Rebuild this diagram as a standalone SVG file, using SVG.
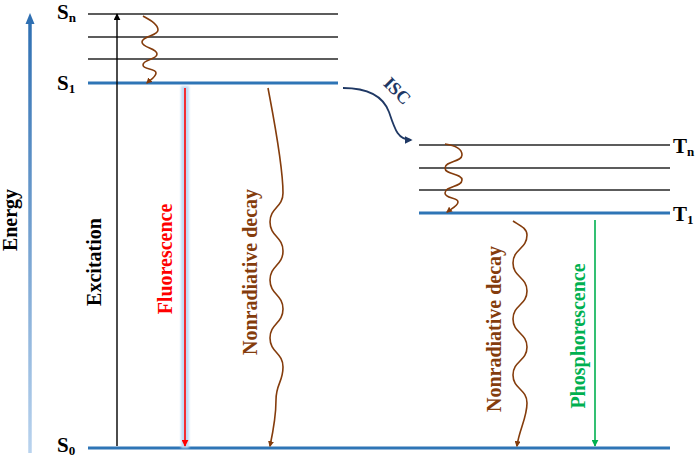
<svg xmlns="http://www.w3.org/2000/svg" width="700" height="459" viewBox="0 0 700 459">
<style>
text{font-family:"Liberation Serif","Times New Roman",serif;font-weight:bold}
.lbl{font-size:20px}
.sub{font-size:13px}
.lvl{stroke:#262626;stroke-width:1.6;fill:none}
.lvb{stroke:#2e75b6;stroke-width:3;fill:none}
.wav{stroke:#843c0c;stroke-width:1.6;fill:none;marker-end:url(#mb)}
</style>
<defs>
<linearGradient id="eg" gradientUnits="userSpaceOnUse" x1="0" y1="452" x2="0" y2="20">
<stop offset="0" stop-color="#b9d3ee"/><stop offset="1" stop-color="#2e6fb2"/>
</linearGradient>
<filter id="glow" filterUnits="userSpaceOnUse" x="170" y="75" width="30" height="385"><feGaussianBlur stdDeviation="1"/></filter>
<marker id="mb" viewBox="0 0 10 10" refX="8" refY="5" markerWidth="6" markerHeight="6" markerUnits="userSpaceOnUse" orient="auto"><path d="M0,0 L10,5 L0,10 z" fill="#843c0c"/></marker>
<marker id="mk" viewBox="0 0 10 10" refX="9" refY="5" markerWidth="7" markerHeight="7" markerUnits="userSpaceOnUse" orient="auto"><path d="M0,0 L10,5 L0,10 z" fill="#000"/></marker>
<marker id="mr" viewBox="0 0 10 10" refX="9" refY="5" markerWidth="7" markerHeight="7" markerUnits="userSpaceOnUse" orient="auto"><path d="M0,0 L10,5 L0,10 z" fill="#ff0000"/></marker>
<marker id="mg" viewBox="0 0 10 10" refX="9" refY="5" markerWidth="7" markerHeight="7" markerUnits="userSpaceOnUse" orient="auto"><path d="M0,0 L10,5 L0,10 z" fill="#00b050"/></marker>
<marker id="mn" viewBox="0 0 10 10" refX="8" refY="5" markerWidth="8" markerHeight="8" markerUnits="userSpaceOnUse" orient="auto"><path d="M0,0 L10,5 L0,10 z" fill="#1f3864"/></marker>
</defs>
<rect width="700" height="459" fill="#fff"/>

<g id="energy-axis">
<line x1="30" y1="453" x2="30" y2="22" stroke="url(#eg)" stroke-width="3.5"/>
<polygon points="30,13 25.5,24 34.5,24" fill="#2e6fb2"/>
<text class="lbl" transform="translate(17,220) rotate(-90)" text-anchor="middle">Energy</text>
</g>

<g id="singlet-levels">
<line class="lvl" x1="88" y1="14" x2="338" y2="14"/>
<line class="lvl" x1="88" y1="37" x2="338" y2="37"/>
<line class="lvl" x1="88" y1="59" x2="338" y2="59"/>
<line class="lvb" x1="88" y1="83" x2="338" y2="83"/>
<text x="57" y="19" font-size="21">S<tspan class="sub" dy="3">n</tspan></text>
<text x="57" y="90" font-size="21">S<tspan class="sub" dy="3">1</tspan></text>
</g>

<g id="ground-level">
<line class="lvb" x1="88" y1="448" x2="670" y2="448"/>
<text x="57" y="452" font-size="21">S<tspan class="sub" dy="3">0</tspan></text>
</g>

<g id="triplet-levels">
<line class="lvl" x1="419" y1="145" x2="670" y2="145"/>
<line class="lvl" x1="419" y1="168" x2="670" y2="168"/>
<line class="lvl" x1="419" y1="190" x2="670" y2="190"/>
<line class="lvb" x1="419" y1="213" x2="670" y2="213"/>
<text x="673" y="153" font-size="21">T<tspan class="sub" dy="3">n</tspan></text>
<text x="673" y="221" font-size="21">T<tspan class="sub" dy="3">1</tspan></text>
</g>

<g id="connectors">
<line x1="117" y1="446" x2="117" y2="14" stroke="#000" stroke-width="1.4" marker-end="url(#mk)"/>
<rect x="181" y="86" width="8" height="362" fill="#c2daf4" filter="url(#glow)"/>
<line x1="185" y1="88" x2="185" y2="446" stroke="#ff0000" stroke-width="1.6" marker-end="url(#mr)"/>
<line x1="595" y1="220" x2="595" y2="446" stroke="#00b050" stroke-width="1.6" marker-end="url(#mg)"/>
<path class="wav" d="M143,16 C150,20 158,24 158,30 C158,36 142,36 142,42 C142,48 157,48 157,54 C157,60 143,59 143,65 C143,70 156,68 156,73 C156,77 150,80 147,83"/>
<path class="wav" d="M445,144 C452,145 462,148 462,155 C462,162 445,161 445,168 C445,175 462,173 462,180 C462,187 445,186 445,193 C445,199 458,197 458,202 C458,206 451,209 447,212"/>
<path class="wav" d="M268,88 C274,120 283,165 283,193 C283,207.5 270,207.5 270,222 S283,236.5 283,251 S270,265.5 270,280 S283,294.5 283,309 S270,323.5 270,338 S283,352.5 283,367 C283,382 276,384 276,400 C276,418 273,432 270,446"/>
<path class="wav" d="M513,221 C519,225 527,228 527,235 C527,249 513,249 513,263 S527,277 527,291 S513,305 513,319 S527,333 527,347 S513,361 513,375 S527,389 527,403 C527,418 519,430 517,446"/>
<path d="M343,88 C368,88 383,96 389,112 C395,130 398,140 411,140" stroke="#1f3864" stroke-width="1.8" fill="none" marker-end="url(#mn)"/>
</g>

<g id="labels">
<text class="lbl" transform="translate(101,262) rotate(-90)" text-anchor="middle" fill="#000">Excitation</text>
<text class="lbl" transform="translate(172,259) rotate(-90)" text-anchor="middle" fill="#ff0000">Fluorescence</text>
<text class="lbl" transform="translate(257,272) rotate(-90)" text-anchor="middle" fill="#843c0c">Nonradiative decay</text>
<text class="lbl" transform="translate(501,329) rotate(-90)" text-anchor="middle" fill="#843c0c">Nonradiative decay</text>
<text class="lbl" transform="translate(585,336) rotate(-90)" text-anchor="middle" fill="#00b050">Phosphorescence</text>
<text transform="translate(393,95) rotate(45)" text-anchor="middle" font-size="18" fill="#1f3864">ISC</text>
</g>
</svg>
